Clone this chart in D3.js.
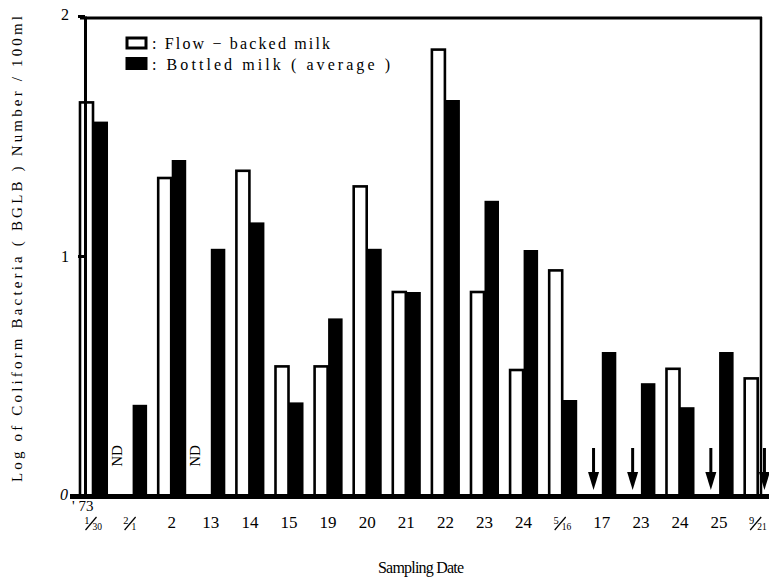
<!DOCTYPE html>
<html>
<head>
<meta charset="utf-8">
<script src="https://cdn.jsdelivr.net/npm/d3@7"></script>
<style>
  body { margin: 0; background: #fff; }
  svg text { font-family: "Liberation Serif", "DejaVu Serif", serif; fill: #000; }
</style>
</head>
<body>
<div id="chart"></div>
<script>
// sampling dates ('73), split as numerator/denominator where written as a fraction
var dates = ['1/30', '2/1', '2', '13', '14', '15', '19', '20', '21', '22', '23', '24', '5/16', '17', '23', '24', '25', '9/21'];
// log of coliform number, null = not detected
var flowMilk = [1.64, null, 1.325, null, 1.355, 0.54, 0.54, 1.29, 0.85, 1.86, 0.85, 0.525, 0.94, null, null, 0.53, null, 0.49];
var bottledMilk = [1.56, 0.38, 1.40, 1.03, 1.14, 0.39, 0.74, 1.03, 0.85, 1.65, 1.23, 1.025, 0.40, 0.60, 0.47, 0.37, 0.60, null];
// how a missing value is marked
var flowNotes = ['', 'ND', '', 'ND', '', '', '', '', '', '', '', '', '', 'arrow', 'arrow', '', 'arrow', ''];
var bottledNotes = ['', '', '', '', '', '', '', '', '', '', '', '', '', '', '', '', '', 'arrow'];
var series = ['flow', 'bottled'];
var yTicks = [0, 1, 2];

var serif = '"Liberation Serif", "DejaVu Serif", serif';
var width = 769, height = 585;
var svg = d3.select('#chart').append('svg')
    .attr('width', width)
    .attr('height', height)
    .attr('font-family', serif);
svg.append('rect').attr('width', width).attr('height', height).attr('fill', '#fff');

var y = d3.scaleLinear().domain([0, 2]).range([496, 16]);
var x0 = d3.scaleBand()
    .domain(d3.range(dates.length))
    .range([79, 772.7])
    .paddingInner(0.258)
    .paddingOuter(0);
var x1 = d3.scaleBand().domain(series).range([0, x0.bandwidth()]);

// frame: top and right
svg.append('line').attr('x1', 80).attr('x2', 762).attr('y1', 18).attr('y2', 18)
    .attr('stroke', '#000').attr('stroke-width', 3);
svg.append('line').attr('x1', 761).attr('x2', 761).attr('y1', 17).attr('y2', 496)
    .attr('stroke', '#000').attr('stroke-width', 2.5);

// bars
var groups = svg.selectAll('.grp')
    .data(dates)
    .enter().append('g')
    .attr('class', 'grp')
    .attr('transform', function (d, i) { return 'translate(' + x0(i) + ',0)'; });

groups.each(function (d, i) {
    var g = d3.select(this);
    var fv = flowMilk[i], bv = bottledMilk[i];
    if (fv !== null) {
        g.append('rect')
            .attr('x', x1('flow') + 1)
            .attr('y', y(fv))
            .attr('width', x1.bandwidth() - 1.5)
            .attr('height', y(0) - y(fv))
            .attr('fill', '#fff')
            .attr('stroke', '#000')
            .attr('stroke-width', 2.6);
    }
    if (bv !== null) {
        g.append('rect')
            .attr('x', x1('bottled'))
            .attr('y', y(bv))
            .attr('width', x1.bandwidth())
            .attr('height', y(0) - y(bv))
            .attr('fill', '#000');
    }
    [['flow', flowNotes[i]], ['bottled', bottledNotes[i]]].forEach(function (n) {
        var cx = x1(n[0]) + x1.bandwidth() / 2;
        if (n[1] === 'ND') {
            g.append('text')
                .attr('transform', 'translate(' + (x1(n[0]) + 4) + ',' + 456 + ') rotate(-90)')
                .attr('text-anchor', 'middle')
                .style('font-size', '15px')
                .text('ND');
        } else if (n[1] === 'arrow') {
            g.append('line')
                .attr('x1', cx - 1).attr('x2', cx - 1)
                .attr('y1', y(0.2)).attr('y2', y(0.08))
                .attr('stroke', '#000').attr('stroke-width', 3);
            g.append('path')
                .attr('d', 'M' + (cx - 6.5) + ',' + y(0.1) + 'L' + (cx + 4.5) + ',' + y(0.1) +
                    'L' + (cx - 1) + ',' + y(0.025) + 'Z')
                .attr('fill', '#000');
        }
    });
});

// y axis
var yAxis = svg.append('g')
    .attr('transform', 'translate(85,0)')
    .call(d3.axisLeft(y).tickValues(yTicks).tickSize(7).tickSizeOuter(0).tickFormat(d3.format('d')));
yAxis.attr('font-family', serif);
yAxis.select('.domain').attr('stroke-width', 3);
yAxis.selectAll('.tick line').attr('stroke-width', 3);
yAxis.selectAll('.tick text')
    .attr('x', -16)
    .style('font-size', '16px')
    .style('font-style', function (d) { return d === 0 ? 'italic' : 'normal'; });
yAxis.selectAll('.tick').filter(function (d) { return d === 2; }).select('text').attr('dy', '0.2em');
yAxis.selectAll('.tick').filter(function (d) { return d === 0; }).select('text').attr('dy', '0.2em').attr('x', -17);

// baseline
svg.append('line').attr('x1', 70).attr('x2', 769).attr('y1', y(0) + 0.5).attr('y2', y(0) + 0.5)
    .attr('stroke', '#000').attr('stroke-width', 5);

// x labels
var labelY = 529;
groups.each(function (d, i) {
    var g = d3.select(this);
    var cx = x0.bandwidth() / 2;
    var parts = d.split('/');
    if (parts.length === 1) {
        g.append('text')
            .attr('x', cx).attr('y', labelY - 1)
            .attr('text-anchor', 'middle')
            .style('font-size', '17px')
            .text(d);
    } else {
        g.append('text')
            .attr('x', cx - 4).attr('y', labelY - 5)
            .attr('text-anchor', 'end')
            .style('font-size', '10.5px')
            .text(parts[0]);
        g.append('line')
            .attr('x1', cx - 8).attr('x2', cx + 3)
            .attr('y1', labelY + 1).attr('y2', labelY - 12)
            .attr('stroke', '#000').attr('stroke-width', 1.2);
        g.append('text')
            .attr('x', cx - 1).attr('y', labelY + 1)
            .attr('text-anchor', 'start')
            .style('font-size', '9.5px')
            .text(parts[1]);
    }
});
svg.append('text')
    .attr('x', 72).attr('y', 511)
    .attr('text-anchor', 'start')
    .style('font-size', '15px')
    .text("' 73");

// axis titles
svg.append('text')
    .attr('x', 421).attr('y', 573)
    .attr('text-anchor', 'middle')
    .style('font-size', '16px')
    .attr('textLength', 86)
    .text('Sampling Date');
svg.append('text')
    .attr('transform', 'translate(22,249) rotate(-90)')
    .attr('text-anchor', 'middle')
    .style('font-size', '15px')
    .attr('textLength', 466)
    .attr('lengthAdjust', 'spacing')
    .text('Log of Coliform Bacteria ( BGLB ) Number / 100ml');

// legend
var legend = svg.append('g');
legend.append('rect')
    .attr('x', 127).attr('y', 38).attr('width', 19).attr('height', 10)
    .attr('fill', '#fff').attr('stroke', '#000').attr('stroke-width', 3);
legend.append('rect')
    .attr('x', 125.5).attr('y', 57).attr('width', 22).attr('height', 13)
    .attr('fill', '#000');
legend.append('text')
    .attr('x', 152).attr('y', 49)
    .style('font-size', '16px')
    .attr('textLength', 178)
    .attr('lengthAdjust', 'spacing')
    .text(': Flow \u2212 backed milk');
legend.append('text')
    .attr('x', 152).attr('y', 70)
    .style('font-size', '16px')
    .attr('textLength', 238)
    .attr('lengthAdjust', 'spacing')
    .text(': Bottled milk  ( average )');
</script>
</body>
</html>
